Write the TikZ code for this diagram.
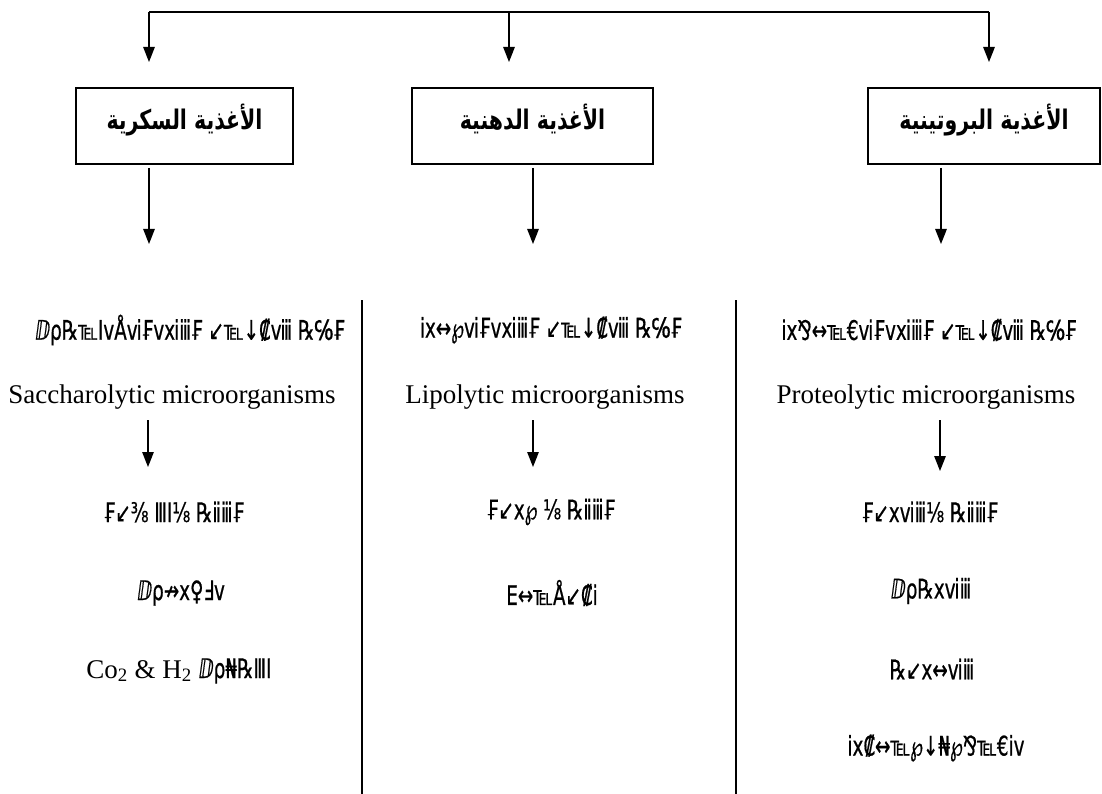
\documentclass[tikz,border=0pt]{standalone}
\usepackage{fontspec}
\setmainfont{Liberation Serif}
\newfontfamily\arabicfont[Script=Arabic,FakeStretch=0.76]{DejaVu Sans}
\newfontfamily\garbledfont[FakeStretch=0.68,FakeBold=0.6]{DejaVu Sans}
\TeXXeTstate=1
\usetikzlibrary{positioning,arrows.meta}
\tikzset{
  % Specifications for style of nodes:
  base/.style = {
    inner sep=0pt,
    text centered
  },
  food/.style = {
    base,
    rectangle,
    draw=black,
    line width=1.3pt,
    minimum height=76pt,
    text height=19pt,
    text depth=11pt,
    font=\fontsize{27}{30}\arabicfont\bfseries
  },
  garbled/.style = {
    base,
    font=\fontsize{27}{30}\garbledfont
  },
  latin/.style = {
    base,
    font=\fontsize{27}{30}\selectfont
  },
  link/.style = {
    line width=1.3pt
  },
  flow/.style = {
    line width=1.3pt,
    -{Triangle[length=15pt,width=11.5pt]}
  },
}
\newcommand\ar[1]{\beginR #1\endR}

\begin{document}
\begin{tikzpicture}[x=1pt,y=-1pt]
    \useasboundingbox (0,0) rectangle (1102,794);
    % Specification of nodes (position, etc.)
    \node[food, minimum width=217pt] (sugarbox)   at (184.5,126) {\ar{الأغذية السكرية}};
    \node[food, minimum width=241pt] (fatbox)     at (532.5,126) {\ar{الأغذية الدهنية}};
    \node[food, minimum width=232pt] (proteinbox) at (984,126)   {\ar{الأغذية البروتينية}};
    % top bus
    \coordinate (busleft)  at (149,12);
    \coordinate (busmid)   at (509,12);
    \coordinate (busright) at (989,12);
    \coordinate (sugarin)   at (149,62);
    \coordinate (fatin)     at (509,62);
    \coordinate (proteinin) at (989,62);
    \draw[link] (busleft) -- (busright);
    \draw[flow] (busleft) -- (sugarin);
    \draw[flow] (busmid) -- (fatin);
    \draw[flow] (busright) -- (proteinin);
    % sugar column
    \node[garbled] (sugarA) at (190,330) {ⅅρ℞℡ⅠⅴÅⅵ₣ⅴⅺⅲ₣ ↙℡↓₡ⅷ ℞℅₣};
    \node[latin]   (sugarB) at (172,397) {Saccharolytic microorganisms};
    \node[garbled] (sugarC) at (174,512) {₣↙⅜ ⅢⅠ⅛ ℞ⅱⅲ₣};
    \node[garbled] (sugarD) at (181,593) {ⅅρ↛ⅹ♀Ⅎⅴ};
    \node[latin]   (sugarE) at (179,671) {Co\textsubscript{2} \& H\textsubscript{2} {\garbledfont ⅅρ₦℞ⅢⅠ}};
    \coordinate (sugarout) at (149,168);
    \coordinate (sugarend) at (149,244);
    \coordinate (sugarmid) at (148,420);
    \coordinate (sugarlow) at (148,467);
    \draw[flow] (sugarout) -- (sugarend);
    \draw[flow] (sugarmid) -- (sugarlow);
    % fat column
    \node[garbled] (fatA) at (551,330) {ⅰⅹ↔℘ⅵ₣ⅴⅺⅲ₣ ↙℡↓₡ⅷ ℞℅₣};
    \node[latin]   (fatB) at (545,397) {Lipolytic microorganisms};
    \node[garbled] (fatC) at (551,512) {₣↙ⅹ℘ ⅛ ℞ⅱⅲ₣};
    \node[garbled] (fatD) at (552,593) {E↔℡Å↙₡ⅰ};
    \coordinate (fatout) at (533,168);
    \coordinate (fatend) at (533,244);
    \coordinate (fatmid) at (533,420);
    \coordinate (fatlow) at (533,467);
    \draw[flow] (fatout) -- (fatend);
    \draw[flow] (fatmid) -- (fatlow);
    % protein column
    \node[garbled] (proteinA) at (929,330) {ⅰⅹ⅋↔℡€ⅵ₣ⅴⅺⅲ₣ ↙℡↓₡ⅷ ℞℅₣};
    \node[latin]   (proteinB) at (926,397) {Proteolytic microorganisms};
    \node[garbled] (proteinC) at (930,512) {₣↙ⅹⅵⅲ⅛ ℞ⅱⅲ₣};
    \node[garbled] (proteinD) at (931,591) {ⅅρ℞ⅹⅵⅲ};
    \node[garbled] (proteinE) at (932,669) {℞↙ⅹ↔ⅵⅲ};
    \node[garbled] (proteinF) at (936,748) {ⅰⅹ₡↔℡℘↓₦℘⅋℡€ⅰⅴ};
    \coordinate (proteinout) at (941,168);
    \coordinate (proteinend) at (941,244);
    \coordinate (proteinmid) at (940,420);
    \coordinate (proteinlow) at (940,471);
    \draw[flow] (proteinout) -- (proteinend);
    \draw[flow] (proteinmid) -- (proteinlow);
    % column dividers
    \coordinate (divAtop) at (362,300);
    \coordinate (divAbot) at (362,794);
    \coordinate (divBtop) at (736,300);
    \coordinate (divBbot) at (736,794);
    \draw[link] (divAtop) -- (divAbot);
    \draw[link] (divBtop) -- (divBbot);
\end{tikzpicture}
\end{document}
